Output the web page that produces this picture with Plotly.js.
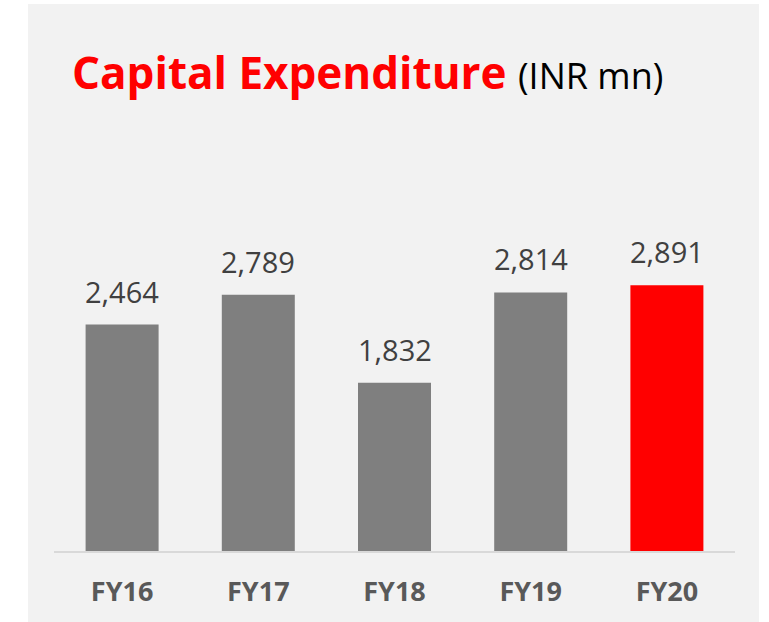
<!DOCTYPE html>
<html>
<head>
<meta charset="utf-8">
<script src="https://cdn.plot.ly/plotly-3.0.1.min.js"></script>
<style>
  html, body { margin: 0; padding: 0; background: #ffffff; }
  #chart { position: absolute; left: 28px; top: 4px; width: 731px; height: 618px; }
</style>
</head>
<body>
<div id="chart"></div>
<script>
const categories = ["FY16", "FY17", "FY18", "FY19", "FY20"];
const values = [2464, 2789, 1832, 2814, 2891];
const valueLabels = ["2,464", "2,789", "1,832", "2,814", "2,891"];
const barColors = ["#7f7f7f", "#7f7f7f", "#7f7f7f", "#7f7f7f", "#ff0000"];

const trace = {
  type: "bar",
  x: categories,
  y: values,
  marker: { color: barColors },
  hoverinfo: "none"
};

const annotations = categories.map((c, i) => ({
  x: c, y: values[i], xref: "x", yref: "y",
  text: valueLabels[i], showarrow: false,
  yanchor: "bottom", yshift: 12,
  font: { family: "Open Sans", size: 29, color: "#404040" }
}));

const layout = {
  width: 731, height: 618,
  paper_bgcolor: "#f2f2f2",
  plot_bgcolor: "#f2f2f2",
  margin: { l: 26, r: 24, t: 116, b: 71.3 },
  bargap: 0.464,
  showlegend: false,
  title: {
    text: "<b>Capital Expenditure</b> <span style=\"color:#000000;font-size:36px\">(INR mn)</span>",
    font: { family: "Open Sans", size: 44, color: "#ff0000" },
    xref: "container", x: 0.0602, xanchor: "left",
    yref: "container", y: 0.8867, yanchor: "middle"
  },
  xaxis: {
    type: "category",
    showline: true, linecolor: "#d9d9d9", linewidth: 2,
    showgrid: false, zeroline: false, ticks: "",
    tickfont: { family: "Open Sans", size: 27, color: "#595959", weight: "bold" },
    ticklabelstandoff: 16
  },
  yaxis: {
    range: [0, 4690],
    visible: false, showgrid: false, zeroline: false
  },
  annotations: annotations
};

Plotly.newPlot("chart", [trace], layout, { displayModeBar: false, staticPlot: true });
</script>
</body>
</html>
